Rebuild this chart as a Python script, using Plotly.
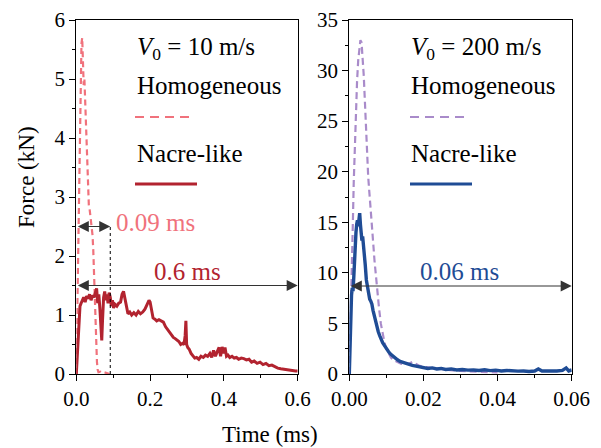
import plotly.graph_objects as go

# ---------------- data ----------------
# V0 = 10 m/s, homogeneous
t_h10 = [0, 0.002, 0.004, 0.006, 0.008, 0.010, 0.012, 0.014, 0.016, 0.018,
         0.020, 0.022, 0.024, 0.026, 0.028, 0.030, 0.032, 0.034, 0.036, 0.038,
         0.040, 0.042, 0.044, 0.046, 0.048, 0.050, 0.052, 0.054, 0.056, 0.058,
         0.060, 0.065, 0.070, 0.075, 0.080, 0.085, 0.090]
f_h10 = [0, 0.8, 1.9, 3.0, 4.0, 4.8, 5.3, 5.6, 5.7, 5.3,
         4.9, 5.0, 4.6, 4.5, 3.8, 3.4, 3.0, 2.85, 2.8, 2.7,
         2.6, 2.5, 2.35, 2.1, 1.7, 1.2, 0.8, 0.45, 0.2, 0.07,
         0.03, 0.04, 0.02, 0.03, 0.02, 0.01, 0.0]

# V0 = 10 m/s, nacre-like
t_n10 = [0, 0.004, 0.008, 0.010, 0.013, 0.016, 0.020, 0.024, 0.028, 0.032,
         0.036, 0.040, 0.044, 0.048, 0.052, 0.055, 0.058, 0.061, 0.064, 0.067,
         0.069, 0.071, 0.074, 0.077, 0.080, 0.083, 0.086, 0.089, 0.092, 0.095,
         0.098, 0.101, 0.105, 0.110, 0.115, 0.120, 0.124, 0.128, 0.132, 0.136,
         0.140, 0.145, 0.150, 0.156, 0.162, 0.168, 0.174, 0.180, 0.186, 0.192,
         0.197, 0.200, 0.204, 0.208, 0.213, 0.218, 0.224, 0.230, 0.236, 0.242,
         0.248, 0.253, 0.258, 0.263, 0.268, 0.273, 0.278, 0.283, 0.288, 0.292,
         0.295, 0.297, 0.299, 0.302, 0.306, 0.311, 0.316, 0.321, 0.326, 0.332,
         0.338, 0.344, 0.350, 0.356, 0.362, 0.367, 0.372, 0.377, 0.382, 0.387,
         0.391, 0.395, 0.399, 0.403, 0.407, 0.411, 0.416, 0.422, 0.428, 0.434,
         0.440, 0.447, 0.454, 0.461, 0.468, 0.475, 0.482, 0.490, 0.498, 0.506,
         0.514, 0.522, 0.530, 0.538, 0.546, 0.554, 0.562, 0.570, 0.578, 0.586,
         0.594, 0.600]
f_n10 = [0, 0.45, 0.95, 1.15, 1.2, 1.25, 1.3, 1.22, 1.32, 1.28,
         1.35, 1.25, 1.33, 1.3, 1.38, 1.45, 1.2, 1.35, 1.1, 0.75,
         0.57, 0.9, 1.3, 1.4, 1.25, 1.35, 1.2, 1.38, 1.3, 1.15,
         1.25, 1.12, 1.18, 1.15, 1.2, 1.22, 1.35, 1.4, 1.25, 1.1,
         1.02, 1.05, 1.0, 1.04, 1.0, 1.06, 1.02, 1.05, 1.1, 1.18,
         1.25, 1.22, 1.05, 0.95, 0.93, 0.9, 0.92, 0.9, 0.88, 0.8,
         0.75, 0.7, 0.65, 0.62, 0.6, 0.58, 0.55, 0.5, 0.52, 0.5,
         0.65, 0.9, 0.5, 0.45, 0.42, 0.35, 0.3, 0.27, 0.28, 0.25,
         0.3, 0.28, 0.32, 0.3, 0.35, 0.28, 0.4, 0.3, 0.38, 0.45,
         0.3, 0.46, 0.35, 0.45, 0.3, 0.32, 0.28, 0.3, 0.27, 0.28,
         0.25, 0.27, 0.26, 0.24, 0.25, 0.2, 0.22, 0.18, 0.2, 0.16,
         0.18, 0.14, 0.15, 0.12, 0.1, 0.09, 0.08, 0.07, 0.06, 0.06,
         0.05, 0.05]

# V0 = 200 m/s, homogeneous
t_h200 = [0, 0.0003, 0.0006, 0.0009, 0.0012, 0.0015, 0.0018, 0.0021, 0.0024, 0.0027,
          0.0030, 0.0033, 0.0036, 0.0039, 0.0042, 0.0045, 0.0048, 0.0051, 0.0054, 0.0057,
          0.0060, 0.0064, 0.0068, 0.0072, 0.0076, 0.0080, 0.0085, 0.0090, 0.0095, 0.0100,
          0.0106, 0.0112, 0.0118, 0.0125, 0.0132, 0.0140, 0.0150, 0.0160, 0.0170, 0.0180,
          0.0190, 0.0200, 0.0220, 0.0240, 0.0260, 0.0280, 0.0300, 0.0330, 0.0360, 0.0400]
f_h200 = [0, 4, 9, 14, 19, 23, 26.5, 29, 31, 32.5,
          33, 32.8, 31.5, 29.5, 27, 24, 21.5, 19.5, 18, 16.8,
          15.2, 13.2, 11.2, 9.5, 8.0, 6.6, 5.0, 3.9, 3.1, 2.5,
          2.0, 1.65, 1.4, 1.25, 1.1, 1.0, 1.1, 1.0, 1.2, 1.0,
          0.8, 0.7, 0.6, 0.5, 0.4, 0.35, 0.3, 0.25, 0.2, 0.15]

# V0 = 200 m/s, nacre-like
t_n200 = [0, 0.0002, 0.0004, 0.0006, 0.0008, 0.0010, 0.0012, 0.0014, 0.0016, 0.0018,
          0.0020, 0.0022, 0.0024, 0.0026, 0.0028, 0.0030, 0.0032, 0.0034, 0.0036, 0.0038,
          0.0040, 0.0043, 0.0046, 0.0049, 0.0052, 0.0055, 0.0058, 0.0061, 0.0064, 0.0067,
          0.0070, 0.0074, 0.0078, 0.0082, 0.0086, 0.0090, 0.0095, 0.0100, 0.0106, 0.0112,
          0.0118, 0.0124, 0.0130, 0.0137, 0.0144, 0.0152, 0.0160, 0.0170, 0.0180, 0.0190,
          0.0200, 0.0212, 0.0224, 0.0236, 0.0248, 0.0260, 0.0275, 0.0290, 0.0305, 0.0320,
          0.0335, 0.0350, 0.0365, 0.0380, 0.0395, 0.0410, 0.0425, 0.0440, 0.0455, 0.0470,
          0.0485, 0.0500, 0.0510, 0.0520, 0.0530, 0.0545, 0.0560, 0.0575, 0.0585, 0.0592,
          0.0600]
f_n200 = [0, 3.5, 6.5, 7.8, 8.5, 8.2, 9.5, 11.5, 13.2, 14.0,
          14.8, 15.2, 14.6, 15.5, 15.9, 14.8, 14.0, 13.2, 13.6, 12.9,
          12.0, 10.8, 9.3, 8.6, 7.8, 7.4, 7.2, 6.9, 6.3, 5.8,
          5.4, 4.7, 4.2, 3.8, 3.4, 3.1, 2.8, 2.5, 2.2, 1.95,
          1.75, 1.55, 1.4, 1.25, 1.15, 1.05, 0.95, 0.85, 0.78, 0.7,
          0.62, 0.55, 0.6, 0.5, 0.55, 0.45, 0.5, 0.4, 0.45, 0.38,
          0.4, 0.35, 0.42, 0.33, 0.38, 0.3, 0.35, 0.3, 0.28, 0.3,
          0.25, 0.3, 0.5, 0.3, 0.28, 0.25, 0.3, 0.35, 0.6, 0.3,
          0.4]

PINK = "#F0727C"
DRED = "#B2232F"
PURP = "#A98BCA"
BLUE = "#1F4C95"
FONT = "Liberation Serif"

W, H = 601, 448
ML, MR, MT, MB = 0, 0, 20, 74
PH = H - MT - MB


def px(x):
    return x / W


def py(y):
    return (H - MB - y) / PH


fig = go.Figure()
fig.add_trace(go.Scatter(x=t_h10, y=f_h10, mode="lines", xaxis="x", yaxis="y",
                         line=dict(color=PINK, width=2.2, dash="6px,4px")))
fig.add_trace(go.Scatter(x=t_n10, y=f_n10, mode="lines", xaxis="x", yaxis="y",
                         line=dict(color=DRED, width=3)))
fig.add_trace(go.Scatter(x=t_h200, y=f_h200, mode="lines", xaxis="x2", yaxis="y2",
                         line=dict(color=PURP, width=2.2, dash="7px,4px")))
fig.add_trace(go.Scatter(x=t_n200, y=f_n200, mode="lines", xaxis="x2", yaxis="y2",
                         line=dict(color=BLUE, width=3.4)))

axis_common = dict(showline=True, mirror=True, linecolor="black", linewidth=1.3,
                   ticks="outside", ticklen=6, tickwidth=1.2, tickcolor="black",
                   showgrid=False, zeroline=False, automargin=False,
                   tickfont=dict(family=FONT, size=21, color="black"))

fig.update_layout(
    width=W, height=H, margin=dict(l=ML, r=MR, t=MT, b=MB, autoexpand=False),
    font=dict(family=FONT),
    paper_bgcolor="white", plot_bgcolor="white", showlegend=False,
    xaxis=dict(domain=[px(76.3), px(297.7)], range=[0, 0.6], dtick=0.2, tick0=0,
               tickformat=".1f", anchor="y",
               minor=dict(dtick=0.1, ticks="outside", ticklen=3, tickcolor="black"),
               **axis_common),
    yaxis=dict(domain=[0, 1], range=[0, 6], dtick=1, tick0=0, anchor="x",
               minor=dict(dtick=0.5, ticks="outside", ticklen=3, tickcolor="black"),
               **axis_common),
    xaxis2=dict(domain=[px(349.3), px(571.7)], range=[0, 0.06], dtick=0.02, tick0=0,
                tickformat=".2f", anchor="y2",
                minor=dict(dtick=0.01, ticks="outside", ticklen=3, tickcolor="black"),
                **axis_common),
    yaxis2=dict(domain=[0, 1], range=[0, 35], dtick=5, tick0=0, anchor="x2",
                minor=dict(dtick=2.5, ticks="outside", ticklen=3, tickcolor="black"),
                **axis_common),
)

ann = []
# axis titles
ann.append(dict(text="Time (ms)", x=px(270), y=py(435), xref="paper", yref="paper",
                xanchor="center", yanchor="middle",
                showarrow=False, font=dict(family=FONT, size=23, color="black")))
ann.append(dict(text="Force (kN)", x=px(26), y=py(177), xref="paper", yref="paper",
                xanchor="center", yanchor="middle",
                showarrow=False, textangle=-90, font=dict(family=FONT, size=23, color="black")))

# legend-like labels
for x0, label in [(135, "<i>V</i><sub>0</sub> = 10 m/s"), (409, "<i>V</i><sub>0</sub> = 200 m/s")]:
    ann.append(dict(text=label, x=px(x0), y=py(49), xref="paper", yref="paper",
                    xanchor="left", yanchor="middle", showarrow=False,
                    font=dict(family=FONT, size=25, color="black")))
    ann.append(dict(text="Homogeneous", x=px(x0), y=py(86), xref="paper", yref="paper",
                    xanchor="left", yanchor="middle", showarrow=False,
                    font=dict(family=FONT, size=25, color="black")))
    ann.append(dict(text="Nacre-like", x=px(x0), y=py(154), xref="paper", yref="paper",
                    xanchor="left", yanchor="middle", showarrow=False,
                    font=dict(family=FONT, size=25, color="black")))

# duration labels
ann.append(dict(text="0.09 ms", x=px(114), y=py(222), xref="paper", yref="paper",
                xanchor="left", yanchor="middle", showarrow=False,
                font=dict(family=FONT, size=25, color=PINK)))
ann.append(dict(text="0.6 ms", x=px(187), y=py(271), xref="paper", yref="paper",
                xanchor="center", yanchor="middle", showarrow=False,
                font=dict(family=FONT, size=25, color=DRED)))
ann.append(dict(text="0.06 ms", x=px(459), y=py(271), xref="paper", yref="paper",
                xanchor="center", yanchor="middle", showarrow=False,
                font=dict(family=FONT, size=25, color=BLUE)))

# double-headed arrows
arrow_style = dict(text="", showarrow=True, arrowhead=2, startarrowhead=2,
                   arrowside="end+start", arrowsize=2.0, startarrowsize=2.0,
                   arrowwidth=1.1, arrowcolor="#333333", standoff=0, startstandoff=0)
ann.append(dict(x=0.092, y=2.5, ax=0.0, ay=2.5, xref="x", yref="y", axref="x", ayref="y",
                **arrow_style))
ann.append(dict(x=0.6, y=1.5, ax=0.0, ay=1.5, xref="x", yref="y", axref="x", ayref="y",
                **arrow_style))
ann.append(dict(x=0.06, y=8.7, ax=0.0, ay=8.7, xref="x2", yref="y2", axref="x2", ayref="y2",
                **arrow_style))
fig.update_layout(annotations=ann)

shapes = [
    dict(type="line", xref="x", yref="y", x0=0.092, x1=0.092, y0=0, y1=2.5,
         line=dict(color="black", width=1, dash="dot")),
    # legend samples
    dict(type="line", xref="paper", yref="paper", x0=px(135), x1=px(193), y0=py(117), y1=py(117),
         line=dict(color=PINK, width=2.2, dash="9px,6px")),
    dict(type="line", xref="paper", yref="paper", x0=px(135), x1=px(197), y0=py(184), y1=py(184),
         line=dict(color=DRED, width=3)),
    dict(type="line", xref="paper", yref="paper", x0=px(410), x1=px(468), y0=py(117), y1=py(117),
         line=dict(color=PURP, width=2.2, dash="9px,6px")),
    dict(type="line", xref="paper", yref="paper", x0=px(410), x1=px(472), y0=py(184), y1=py(184),
         line=dict(color=BLUE, width=3)),
]
fig.update_layout(shapes=shapes)

fig.write_html("out.html")
